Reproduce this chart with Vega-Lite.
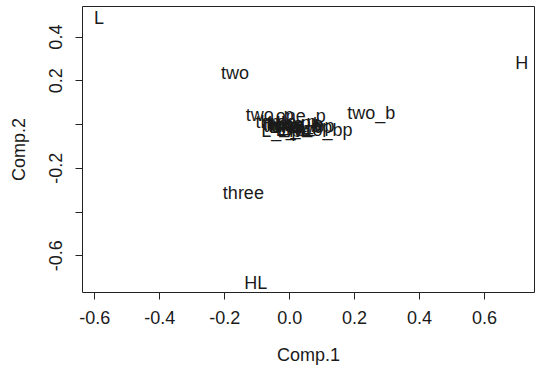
{
  "$schema": "https://vega.github.io/schema/vega-lite/v6.json",
  "width": 452,
  "height": 286,
  "autosize": {"type": "none"},
  "padding": {"left": 82, "top": 6, "right": 7, "bottom": 74},
  "background": "white",
  "config": {
    "view": {"stroke": "#222222", "strokeWidth": 1},
    "font": "Liberation Sans",
    "axis": {
      "domain": false,
      "grid": false,
      "tickColor": "#222222",
      "tickSize": 7,
      "labelFont": "Liberation Sans",
      "labelFontSize": 18,
      "labelColor": "#1a1a1a",
      "titleFont": "Liberation Sans",
      "titleFontSize": 18,
      "titleFontWeight": "normal",
      "titleColor": "#1a1a1a"
    }
  },
  "data": {
    "values": [
      {"label": "L", "c1": -0.586, "c2": 0.482},
      {"label": "H", "c1": 0.716, "c2": 0.276},
      {"label": "HL", "c1": -0.103, "c2": -0.733},
      {"label": "two", "c1": -0.167, "c2": 0.228},
      {"label": "three", "c1": -0.141, "c2": -0.32},
      {"label": "two_b", "c1": 0.253, "c2": 0.046},
      {"label": "two_bp", "c1": 0.106, "c2": -0.032},
      {"label": "two_p", "c1": -0.06, "c2": 0.037},
      {"label": "one_p", "c1": 0.036, "c2": 0.032},
      {"label": "L_bp", "c1": -0.024, "c2": -0.037},
      {"label": "one", "c1": 0.0, "c2": -0.01},
      {"label": "one_b", "c1": 0.02, "c2": -0.015},
      {"label": "one_bp", "c1": 0.04, "c2": -0.02},
      {"label": "three_p", "c1": -0.01, "c2": 0.005},
      {"label": "three_b", "c1": 0.01, "c2": -0.005},
      {"label": "three_bp", "c1": 0.03, "c2": -0.012},
      {"label": "H_p", "c1": -0.02, "c2": -0.01},
      {"label": "HL_p", "c1": 0.0, "c2": 0.0},
      {"label": "L_p", "c1": -0.015, "c2": -0.02},
      {"label": "H_b", "c1": 0.015, "c2": -0.025},
      {"label": "L_b", "c1": 0.005, "c2": -0.03}
    ]
  },
  "mark": {"type": "text", "fontSize": 18, "font": "Liberation Sans", "fill": "#1a1a1a", "align": "center", "baseline": "middle"},
  "encoding": {
    "x": {
      "field": "c1",
      "type": "quantitative",
      "title": "Comp.1",
      "scale": {"domain": [-0.638, 0.754], "nice": false, "zero": false},
      "axis": {
        "values": [-0.6, -0.4, -0.2, 0, 0.2, 0.4, 0.6],
        "format": ".1f",
        "labelExpr": "replace(datum.label, '\u2212', '-')",
        "labelPadding": 10,
        "titlePadding": 19
      }
    },
    "y": {
      "field": "c2",
      "type": "quantitative",
      "title": "Comp.2",
      "scale": {"domain": [-0.768, 0.54], "nice": false, "zero": false},
      "axis": {
        "values": [-0.6, -0.4, -0.2, 0, 0.2, 0.4],
        "format": ".1f",
        "labelExpr": "(datum.value == 0 || datum.value == -0.4) ? '' : replace(datum.label, '\u2212', '-')",
        "labelAngle": -90,
        "labelAlign": "center",
        "labelBaseline": "bottom",
        "labelPadding": 10,
        "titlePadding": 19
      }
    },
    "text": {"field": "label"}
  }
}
